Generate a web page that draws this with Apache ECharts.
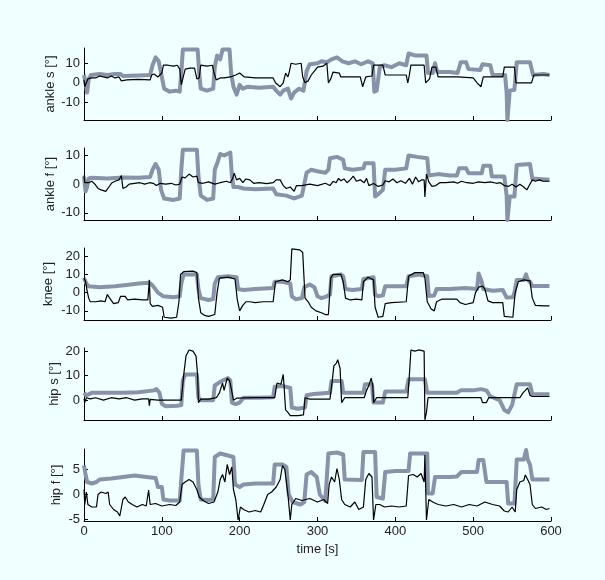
<!DOCTYPE html>
<html>
<head>
<meta charset="utf-8">
<script src="https://cdn.jsdelivr.net/npm/echarts@6/dist/echarts.min.js"></script>
<style>
  html, body { margin: 0; padding: 0; background: #f0ffff; }
  #chart { width: 605px; height: 580px; }
</style>
</head>
<body>
<div id="chart"></div>
<script>
// [time s, angle deg]
const ankleSGray = [[0,4],[2,0],[4,-5],[6,2],[9,4],[20,4.5],[30,4],[40,4.5],[47,4.5],[50,3.5],[70,3.8],[85,4],[88,9],[92,13],[96,11],[99,5],[103,-3],[110,-4.5],[118,-4],[123,-4.5],[125,5],[127,17],[146,17],[148,5],[150,-3],[158,-4],[166,-3],[168,8],[171,14],[175,12],[178,17],[187,17],[189,5],[192,-2],[196,-6],[200,-1],[204,-3],[210,-2],[225,-2.5],[243,-2],[247,-4],[252,-6],[256,-4],[262,-3],[266,-8],[270,-5],[276,-3],[282,-4],[286,6],[290,9.5],[300,10],[305,11],[312,10.5],[318,12],[325,13],[332,11],[340,10],[348,11],[356,9.5],[365,11],[371,10],[373,-4.5],[376,-4],[380,8],[386,9],[395,8],[405,10],[414,9],[417,15],[425,14],[440,14],[442,5],[448,5],[451,10],[454,5.5],[470,5.5],[480,5],[484,10.5],[491,10.5],[494,7],[509,6.5],[512,9.5],[522,9],[525,4],[541,4],[543,-5],[544,-19],[546,-19],[547,-4],[553,-3.5],[556,10.5],[573,10.5],[577,4],[590,4.5],[598,4]];
const ankleSBlack = [[0,1.5],[1,-2],[3,0],[5,2],[10,2.5],[15,2.5],[20,3.5],[25,3],[30,2.5],[35,3.5],[40,2.5],[45,3],[48,1],[55,1.5],[70,1.8],[85,1.5],[87,4],[90,4.5],[95,3],[100,5],[102,9],[108,9],[115,8.5],[120,9],[123,7],[125,-1],[127,0],[130,7],[136,7.5],[142,7.5],[145,2],[148,2.5],[150,9],[158,8.5],[165,9],[167,5],[170,1.5],[175,2.5],[180,2.5],[188,3],[195,4],[200,5],[203,4],[206,3],[220,2.5],[243,2.5],[246,0],[252,-2],[256,0],[259,5],[262,3],[264,6],[266,10],[272,9.5],[279,10],[281,3],[284,0],[288,1],[292,4],[296,6],[300,8],[307,8.5],[312,10],[314,0],[317,2],[320,5.5],[328,5],[330,3],[355,3],[358,-2],[360,-1],[362,3],[370,3.5],[372,9],[384,9],[387,4],[414,4],[416,0],[418,4],[420,9],[437,9],[439,0],[444,2],[447,8],[452,8],[455,3],[480,3],[500,2.5],[505,0],[510,-2],[513,3],[538,3],[540,8],[553,8],[555,0],[575,0],[578,4],[598,4]];

const ankleFGray = [[0,2.7],[2,-2.5],[4,-1],[6,2],[10,2.2],[30,2],[50,2.3],[70,2.2],[85,2.5],[88,5],[92,7],[96,5],[99,-2],[103,-5],[115,-5.5],[123,-5],[125,5],[127,12],[145,12],[147,3],[150,-4],[158,-5.5],[166,-5],[168,5],[172,8],[175,10.5],[180,10],[188,11],[190,3],[192,-1],[198,-1],[205,-1.5],[220,-1.8],[243,-1.5],[247,-3.5],[260,-4],[270,-5],[280,-4],[286,4],[292,5],[300,4.5],[310,4],[314,5],[316,9],[325,9.5],[333,8.5],[335,5.5],[345,5],[359,5.5],[361,7.3],[372,7.3],[374,-4.3],[378,-3.5],[384,-2],[387,5],[400,5],[414,5.5],[417,10],[428,9.5],[441,9],[443,3],[455,3.5],[470,3],[479,3],[482,5.5],[491,5.5],[494,3.8],[511,3.8],[513,6.4],[522,6.4],[524,2.7],[540,2.7],[543,-4],[544,-12.5],[546,-12.5],[547,-4.3],[553,-4.3],[556,6.7],[573,7],[576,2],[588,1.7],[598,1.5]];
const ankleFBlack = [[0,3],[1,0.5],[3,1],[6,0.5],[10,1],[14,0],[18,-1.5],[22,-2],[28,-2.5],[32,-1],[36,0.5],[40,1],[45,1.5],[48,3],[50,-1.5],[54,-1],[58,0],[65,0.3],[72,0.5],[78,0],[84,0.5],[89,0.3],[93,-0.5],[98,0.3],[105,0],[112,0.3],[118,-0.3],[123,0],[126,2.5],[130,2.2],[135,3.5],[140,2.5],[145,2.8],[147,0.5],[153,0.3],[160,0.8],[168,0],[175,0.5],[183,1],[188,0.5],[191,2],[193,3.8],[196,1.5],[200,2],[204,0.5],[208,1.8],[213,1.5],[218,0.3],[225,0.5],[235,0.2],[243,0.5],[247,1.5],[252,1.5],[256,-0.5],[260,-1.5],[265,-1],[270,-2.5],[273,-0.5],[280,-0.5],[290,0],[300,-0.5],[310,0.3],[316,-0.5],[320,1],[324,0.5],[327,2],[330,1.2],[334,1.8],[338,0.5],[342,1.5],[346,2.8],[350,1],[355,1.5],[360,0.5],[363,2],[366,-0.5],[372,0.2],[378,-0.8],[384,-0.3],[387,1.2],[392,0.8],[397,1.8],[402,0.5],[407,1.2],[413,0.3],[418,2],[422,0],[426,2.5],[430,0.8],[434,1.5],[437,1.5],[438,-4.5],[440,3.5],[443,0.8],[447,-0.8],[452,-0.5],[457,0.5],[465,0.5],[475,0.8],[480,0.3],[485,1],[492,0.5],[500,0.3],[507,0.8],[515,0.5],[522,0.8],[530,0.3],[535,0.5],[540,-0.5],[545,-0.8],[550,0],[555,-1],[560,0],[565,-1],[569,-2],[572,-0.5],[576,1.5],[580,1],[585,1.5],[590,1],[598,1]];

const kneeGray = [[0,8],[3,5],[6,3.5],[20,3],[40,3.5],[60,4.5],[70,5],[84,5.5],[88,4],[95,0],[102,-2],[115,-2.5],[123,-2],[125,5],[128,10],[145,10],[147,2],[150,-3],[160,-4],[166,-3.5],[168,5],[172,8.5],[185,9],[196,8.5],[198,2],[205,1.5],[220,2],[243,2.5],[245,6],[255,6],[265,5],[267,-2],[272,-3.6],[280,-3],[283,3],[290,4.5],[296,3],[300,-2],[305,-3],[312,-2],[316,-1],[318,9],[330,10],[333,9],[336,2],[345,1.5],[357,2],[359,7.5],[372,8.5],[374,-1],[378,-2],[384,-1.5],[387,3.5],[400,3.5],[414,3.5],[417,9],[430,10],[441,9],[443,-1.8],[450,-1.5],[453,2],[470,2],[490,2.5],[505,2],[507,10.5],[511,6],[513,2],[525,1],[538,1.5],[543,-2.7],[551,-2.5],[553,0],[556,7],[565,7],[568,10],[570,7],[573,6],[576,3.6],[598,3.6]];
const kneeBlack = [[0,8],[2,6],[4,1],[6,-3],[8,-5],[15,-5],[22,-4.5],[27,-5],[30,-1],[33,-3],[38,-6],[44,-5.5],[47,-2],[53,-2],[56,-4],[65,-3.5],[75,-4],[82,-4],[84,7],[85,-6],[88,-7.5],[95,-7],[101,-8],[103,-13.5],[112,-14],[119,-13.5],[122,-5],[124,10],[128,11.5],[140,11.8],[145,11],[147,-3],[150,-11],[155,-12.5],[160,-13],[168,-12],[171,0],[174,8],[185,8.5],[194,7.5],[197,-4],[200,-10],[204,-7],[208,-5],[213,-5],[220,-5.5],[230,-5],[243,-5],[246,6],[255,7],[262,6],[265,7],[267,24],[277,23.5],[281,22],[284,-3],[288,-5],[292,-8],[298,-10],[305,-11],[310,-12],[314,-12],[317,8],[320,10],[330,10],[333,6],[336,-3],[342,-4],[350,-3.5],[357,-4],[359,6],[365,8.5],[372,7],[374,-8],[378,-13.5],[384,-13],[387,-6],[395,-5.5],[414,-5],[417,9],[425,11],[436,11],[438,8],[441,-5],[446,-9],[450,-10],[453,-5],[460,-3.5],[479,-3.5],[483,-5.5],[490,-6.5],[500,-5.5],[503,0],[507,3],[512,3.6],[515,2],[519,-4.5],[525,-5.5],[538,-5.5],[540,-13],[551,-13.5],[554,0],[558,6],[565,7],[573,6.5],[576,-3],[580,-7],[590,-7.3],[598,-7.3]];

const hipSGray = [[0,3],[3,2],[10,3],[30,3],[50,3],[70,3.2],[90,4],[93,4.5],[97,3],[100,-1.5],[105,-2.5],[120,-2.3],[125,-2],[127,8],[130,10.5],[145,10.5],[147,1],[150,0],[160,0],[166,0],[168,6],[175,7.5],[185,9],[188,8],[190,-1],[195,-1.6],[200,-1],[205,1],[225,1],[243,1.2],[245,5.5],[255,5.8],[265,5],[267,-3],[275,-3.5],[284,-3],[286,2],[295,2.5],[316,3],[318,7.8],[331,7.8],[333,3],[359,3],[361,6.5],[370,6.5],[372,-1],[384,-1],[387,3.5],[414,3.5],[417,8.5],[438,8.5],[441,3],[460,3],[479,3],[484,4],[500,4],[510,4.5],[517,4],[522,1.5],[534,0],[540,-4],[545,-5],[550,-2],[556,6.5],[573,6.5],[576,2.4],[598,2.4]];
const hipSBlack = [[0,0.5],[1,-1],[3,1],[8,0.5],[15,1],[25,0],[35,1],[45,0.5],[55,1],[65,0],[75,0.5],[83,0.5],[84,-2.3],[85,0.3],[95,0],[110,0],[125,0],[128,10],[131,18],[135,20.5],[140,20],[144,18],[146,10],[147,-1],[150,0.4],[160,0.4],[170,1],[174,3],[178,7],[180,4],[184,9],[187,8],[189,5],[192,0],[196,0.8],[220,1],[245,1],[248,7],[253,6.5],[256,10.5],[257,6],[259,-4],[262,-5],[265,-6.3],[275,-6.3],[282,-6],[284,1],[290,0.4],[305,0.4],[316,0.4],[319,8],[321,14],[324,15],[326,16.5],[329,13],[331,-1],[335,1],[360,1],[363,4],[366,6],[369,9],[371,6],[372,-1],[376,1],[400,1],[416,1],[418,10],[420,20.5],[425,20],[430,20.5],[437,20],[438,-8],[440,-5],[442,1],[460,1],[480,1],[500,1],[510,1],[512,-1],[517,-1],[520,1],[540,1],[560,1],[564,3],[567,4],[570,5],[573,2],[576,1.5],[598,1.5]];

const hipFGray = [[0,5.8],[2,4],[4,2.5],[10,2.2],[16,2.5],[20,3],[35,3.2],[50,3.5],[65,3.8],[80,3.5],[92,3.3],[95,1.5],[100,1.5],[102,-1],[110,-1.2],[123,-1.2],[125,3],[128,8.8],[145,8.8],[147,2],[150,-1],[160,-1.1],[166,-1],[168,7.5],[175,8.2],[185,7.8],[192,7.5],[194,2],[200,1.5],[205,2],[220,2.2],[243,2.2],[245,6],[255,6],[260,5.5],[263,0],[268,-1.5],[278,-2],[283,-1.5],[286,4],[292,4.5],[299,3.5],[303,0],[310,-1.3],[314,8.2],[325,8.4],[333,8],[335,3],[357,2.9],[359,8.5],[374,8.5],[376,-0.5],[384,-0.8],[387,4.5],[400,4.7],[417,4.7],[419,8.2],[441,8.2],[442,0.2],[448,0.2],[451,3.5],[470,3.5],[479,3.6],[485,4.5],[505,4.5],[507,6.9],[513,6.9],[517,2.5],[530,2.5],[543,2.5],[545,-1.8],[553,-1.8],[556,7],[565,7],[568,8.9],[570,7],[573,6],[576,3],[590,3],[598,3]];
const hipFBlack = [[0,1],[1,-2],[3,0.5],[5,-2],[10,-2.5],[16,-2.5],[18,0],[22,0.5],[28,0.2],[31,0.5],[33,-2],[38,-3],[43,-3.5],[46,-4.3],[50,-1],[53,-0.5],[57,-1.5],[62,-2],[68,-2.5],[75,-2],[80,-2.3],[83,0.9],[85,-2],[92,-1.8],[100,-2.3],[110,-2],[118,-2.2],[123,-1.5],[126,2],[130,2.5],[135,3],[140,2.5],[145,1],[148,-0.5],[153,-1.2],[160,-1.8],[167,-1.5],[172,0.5],[175,3],[178,4],[181,2.5],[184,6],[187,4],[190,5.5],[192,1],[195,-1],[198,-5.1],[201,-2.5],[205,-3],[212,-3.5],[220,-3.2],[227,-3.5],[231,-2],[236,0],[241,0.5],[247,1.5],[252,3],[255,5.8],[258,5],[262,0],[265,-5.1],[267,-2],[272,-0.8],[280,-1.2],[290,-0.8],[300,-1.5],[308,-1],[313,-1.8],[315,2],[318,3.5],[322,2.5],[325,5.2],[328,3],[331,-1],[335,-2],[342,-2.5],[348,-1.5],[353,-3],[359,-2.5],[362,3],[366,4.2],[370,3.5],[372,-5.1],[375,-2],[380,-2],[386,-2.5],[395,-2.3],[405,-2.5],[414,-2.3],[417,3.8],[423,4],[428,3.5],[433,4.2],[437,2.5],[438,7.9],[440,-5.1],[443,-1],[448,-1.5],[455,-2],[465,-2.3],[475,-2],[485,-2.5],[495,-2],[505,-2.3],[515,-1.5],[525,-2],[534,-2.3],[540,-3.3],[545,-3.5],[550,-2.5],[554,-3.5],[556,1],[560,2.5],[565,2.8],[567,3.9],[570,3],[573,2],[576,-2],[580,-2.8],[588,-2.5],[594,-3],[598,-2.8]];

const panelNames = ['ankle s [°]', 'ankle f [°]', 'knee [°]', 'hip s [°]', 'hip f [°]'];
const yRanges = [[-19, 17.8], [-12.5, 12.6], [-15, 24.5], [-8.1, 21.3], [-5.3, 9.1]];
const yTicks = [[-10, 0, 10], [-10, 0, 10], [-10, 0, 10, 20], [0, 10, 20], [-5, 0, 5]];
const grayData = [ankleSGray, ankleFGray, kneeGray, hipSGray, hipFGray];
const blackData = [ankleSBlack, ankleFBlack, kneeBlack, hipSBlack, hipFBlack];

const tops = [48, 148, 248, 348, 449];
// MATLAB puts each ylabel just left of its widest tick label
const nameGaps = [27.5, 27.5, 29, 23.5, 21];
const font = 'Liberation Sans, Arial, Helvetica, sans-serif';

const chart = echarts.init(document.getElementById('chart'));
const grid = [], xAxis = [], yAxis = [], series = [];

tops.forEach((top, i) => {
  const last = i === tops.length - 1;
  grid.push({ left: 84, width: 467, top: top, height: 72 });
  xAxis.push({
    type: 'value', gridIndex: i, min: 0, max: 600, interval: 100,
    name: last ? 'time [s]' : '', nameLocation: 'middle', nameGap: 22,
    nameTextStyle: { fontFamily: font, fontSize: 13, color: '#222' },
    axisLine: { onZero: false, lineStyle: { color: '#000', width: 1 } },
    axisTick: { inside: true, length: 4, lineStyle: { color: '#000' } },
    axisLabel: { show: last, fontFamily: font, fontSize: 13, color: '#222', margin: 4 },
    splitLine: { show: false }
  });
  yAxis.push({
    type: 'value', gridIndex: i, min: yRanges[i][0], max: yRanges[i][1],
    name: panelNames[i], nameLocation: 'middle', nameRotate: 90,
    nameGap: nameGaps[i], nameMoveOverlap: false,
    nameTextStyle: { fontFamily: font, fontSize: 13, color: '#222' },
    axisLine: { show: true, onZero: false, lineStyle: { color: '#000', width: 1 } },
    axisTick: { inside: true, length: 4, customValues: yTicks[i], lineStyle: { color: '#000' } },
    axisLabel: { customValues: yTicks[i], fontFamily: font, fontSize: 13, color: '#222', margin: 4 },
    splitLine: { show: false }
  });
  series.push({
    type: 'line', xAxisIndex: i, yAxisIndex: i, data: grayData[i],
    showSymbol: false, symbol: 'none', clip: true, z: 2,
    lineStyle: { color: '#8892a8', width: 4, join: 'round' }
  });
  series.push({
    type: 'line', xAxisIndex: i, yAxisIndex: i, data: blackData[i],
    showSymbol: false, symbol: 'none', clip: true, z: 3,
    lineStyle: { color: '#000', width: 1.2 }
  });
});

chart.setOption({
  backgroundColor: '#f0ffff',
  animation: false,
  grid, xAxis, yAxis, series
});
</script>
</body>
</html>
